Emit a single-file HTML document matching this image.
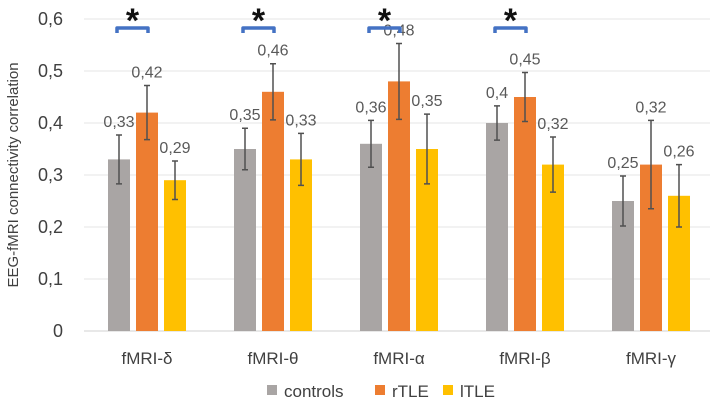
<!DOCTYPE html>
<html><head><meta charset="utf-8"><style>
body{margin:0;background:#fff;}
svg{display:block;font-family:"Liberation Sans","DejaVu Sans",sans-serif;}
</style></head><body>
<svg id="chart" width="714" height="401" viewBox="0 0 714 401"></svg>
<script>
const categories=["fMRI-δ","fMRI-θ","fMRI-α","fMRI-β","fMRI-γ"];
const controls=[0.33,0.35,0.36,0.40,0.25];
const rTLE=[0.42,0.46,0.48,0.45,0.32];
const lTLE=[0.29,0.33,0.35,0.32,0.26];
const controlsErr=[0.047,0.04,0.045,0.033,0.048];
const rTLEErr=[0.052,0.054,0.073,0.047,0.085];
const lTLEErr=[0.037,0.05,0.067,0.053,0.06];
const yTicks=[0,0.1,0.2,0.3,0.4,0.5,0.6];
const significant=[true,true,true,true,false];
const seriesNames=["controls","rTLE","lTLE"];
const colors=["#a9a5a4","#ed7d31","#ffc000"];

const NS="http://www.w3.org/2000/svg";
const svg=document.getElementById('chart');
const left=84,right=714,y0=331,pxPer=520;
const band=(right-left)/categories.length;
function y(v){return y0-v*pxPer;}
function xc(i){return left+band*(i+0.5);}
function mk(tag,attrs,parent){const e=document.createElementNS(NS,tag);for(const k in attrs)e.setAttribute(k,attrs[k]);(parent||svg).appendChild(e);return e;}

yTicks.forEach(t=>{
  const g=mk('line',{x1:left,x2:right-4,y1:y(t),y2:y(t),stroke:t===0?'#d0d0d0':'#e4e4e4','stroke-width':1});
  
  
  const l=mk('text',{x:63,y:y(t)+6,'text-anchor':'end','font-size':18,fill:'#404040'});
  l.textContent=t===0?'0':t.toFixed(1).replace('.',',');
  
  
});
const yt=mk('text',{transform:'translate(18,175) rotate(-90)','text-anchor':'middle','font-size':15,fill:'#404040'});
yt.textContent='EEG-fMRI connectivity correlation';



const series=[controls,rTLE,lTLE],errs=[controlsErr,rTLEErr,lTLEErr];
const bw=22,off=28;
categories.forEach((c,i)=>{
  series.forEach((s,k)=>{
    const cx=xc(i)+(k-1)*off,v=s[i],e=errs[k][i];
    const r=mk('rect',{x:cx-bw/2,y:y(v),width:bw,height:y0-y(v),fill:colors[k]});
    
    
    const eg=mk('path',{d:`M${cx},${y(v+e)}V${y(v-e)}M${cx-3},${y(v+e)}H${cx+3}M${cx-3},${y(v-e)}H${cx+3}`,stroke:'#505050','stroke-width':1.5,fill:'none'});
    
    
    const t=mk('text',{x:cx,y:y(v+e)-8,'text-anchor':'middle','font-size':16,fill:'#595959'});
    t.textContent=String(v).replace('.',',');
    
    
  });
  const cl=mk('text',{x:xc(i),y:364,'text-anchor':'middle','font-size':17,fill:'#404040'});
  cl.textContent=c;
  
  
  if(significant[i]){
    const a=xc(i)-off-2,b=xc(i)+1;
    const br=mk('path',{d:`M${a},33V28H${b}V33`,stroke:'#4472c4','stroke-width':3.5,fill:'none','stroke-linejoin':'round'});
    
    
    const st=mk('text',{x:(a+b)/2,y:32,'text-anchor':'middle','font-size':34,'font-weight':'bold',fill:'#111'});
    st.textContent='*';
    
    
  }
});
const lx=[267,375,443];
seriesNames.forEach((n,k)=>{
  const s=mk('rect',{x:lx[k],y:385,width:10,height:10,fill:colors[k]});
  
  
  const t=mk('text',{x:lx[k]+17,y:397,'font-size':17,fill:'#404040'});
  t.textContent=n;
  
  
});
</script>
</body></html>
